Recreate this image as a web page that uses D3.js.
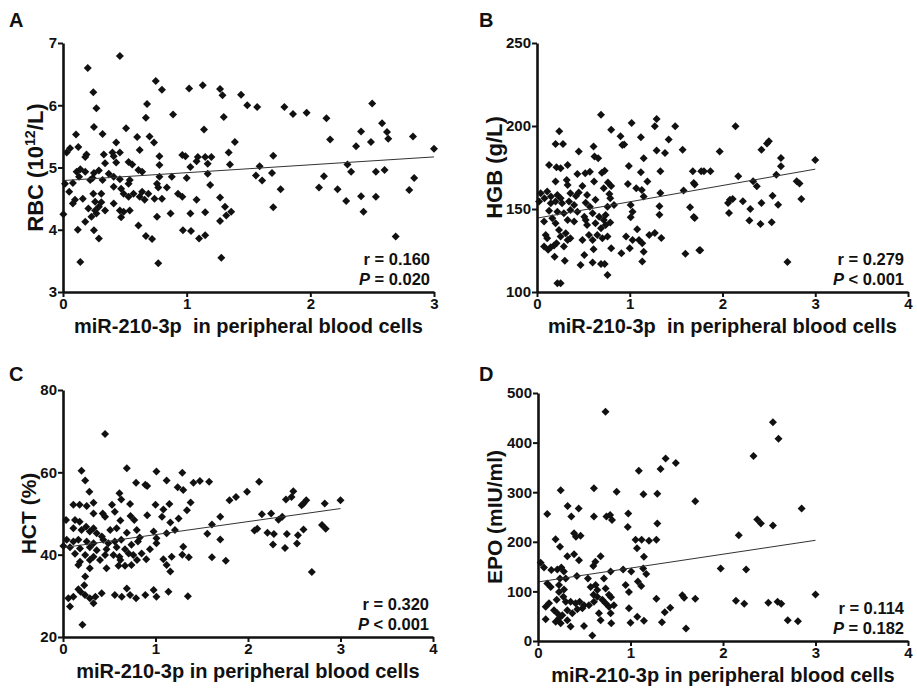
<!DOCTYPE html>
<html>
<head>
<meta charset="utf-8">
<script src="https://cdn.jsdelivr.net/npm/d3@7"></script>
<style>
  body { margin: 0; background: #fff; }
  text { font-family: Arial, "Liberation Sans", sans-serif; font-weight: bold; fill: #111; }
</style>
</head>
<body>
<div id="chart"></div>
<script>
// ---- data: [miR-210-3p, value] ----
const rbcPoints = [
  [0.46,6.79],[0.20,6.60],[0.245,6.21],[0.27,5.95],[0.75,6.39],[0.80,6.25],[1.02,6.27],[1.13,6.32],[1.27,6.26],[1.29,6.16],
  [1.44,6.17],[1.49,6.00],[1.57,5.97],[0.68,6.02],[0.89,5.85],[1.30,5.81],[0.67,5.80],[0.51,5.63],[0.25,5.65],[1.14,5.61],
  [0.965,5.20],[0.99,5.18],[1.03,5.01],[1.00,4.83],[1.08,5.10],[1.09,5.17],[1.15,5.17],[1.20,5.17],[1.17,4.90],[1.17,5.06],
  [1.19,4.72],[0.965,4.53],[1.08,4.48],[1.03,4.26],[1.15,4.28],[1.27,4.52],[1.31,4.37],[1.36,4.29],[1.32,4.23],[0.97,3.99],
  [1.035,3.98],[1.10,3.86],[1.15,3.91],[1.27,4.14],[1.28,3.55],[1.39,5.41],[1.34,5.24],[1.35,5.05],[0.14,3.48],[0.77,3.46],
  [1.79,5.97],[1.86,5.86],[1.97,5.88],[2.13,5.79],[2.50,6.03],[2.58,5.71],[2.62,5.57],[2.63,5.46],[2.83,5.50],[3.00,5.30],
  [2.41,5.58],[2.49,5.41],[2.37,5.34],[2.16,5.45],[1.70,5.19],[1.59,5.02],[1.56,4.87],[1.61,4.79],[1.69,4.91],[1.76,4.65],
  [1.70,4.36],[2.07,4.68],[2.11,4.86],[2.22,4.65],[2.29,4.46],[2.30,5.05],[2.33,4.93],[2.41,4.54],[2.43,4.29],[2.53,4.93],
  [2.60,4.96],[2.53,4.53],[2.69,3.89],[2.80,4.64],[2.84,4.83],
  [0.105,5.53],[0.32,5.54],[0.60,5.49],[0.70,5.50],[0.736,5.40],[0.43,5.40],[0.62,5.28],[0.057,5.31],[0.124,5.33],[0.03,5.24],
  [0.19,5.21],[0.18,5.17],[0.33,5.21],[0.40,5.24],[0.46,5.24],[0.41,5.18],[0.78,5.18],[0.34,5.07],[0.43,5.08],[0.53,5.09],
  [0.56,5.05],[0.78,5.04],[0.14,4.97],[0.11,4.93],[0.18,4.93],[0.25,4.91],[0.29,4.95],[0.37,4.90],[0.61,4.96],[0.64,4.93],
  [0.13,4.85],[0.22,4.80],[0.24,4.83],[0.32,4.80],[0.41,4.85],[0.46,4.81],[0.54,4.80],[0.53,4.74],[0.78,4.85],[0.88,4.85],
  [0.76,4.74],[0.016,4.74],[0.08,4.75],[0.41,4.69],[0.47,4.66],[0.77,4.68],[0.84,4.68],[0.05,4.61],[0.245,4.58],[0.31,4.58],
  [0.49,4.58],[0.57,4.58],[0.64,4.61],[0.69,4.58],[0.53,4.53],[0.62,4.53],[0.66,4.48],[0.74,4.50],[0.80,4.50],[0.93,4.58],
  [0.097,4.48],[0.16,4.50],[0.08,4.42],[0.26,4.45],[0.31,4.44],[0.41,4.42],[0.29,4.37],[0.205,4.34],[0.26,4.31],[0.34,4.31],
  [0.46,4.31],[0.49,4.29],[0.54,4.31],[0.27,4.26],[0.23,4.21],[0.47,4.20],[0.003,4.25],[0.76,4.21],[0.87,4.26],[0.18,4.13],
  [0.12,4.00],[0.25,3.99],[0.29,3.86],[0.61,4.07],[0.67,3.90],[0.72,3.85]
]
const hgbPoints = [
  [0.20,189.2],[0.28,189.2],[0.61,187.6],[0.45,184.6],[0.62,181.6],[0.66,180.6],[0.92,188.6],[1.15,180.6],[0.13,176.5],[0.21,175.1],
  [0.255,174.5],[0.33,176.5],[0.435,171.1],[0.52,171.5],[0.57,172.5],[0.70,171.9],[0.73,173.1],[0.99,175.9],[1.12,172.1],[0.20,166.5],
  [0.32,167.5],[0.33,164.5],[0.49,163.9],[0.615,166.5],[0.765,165.9],[0.80,163.9],[0.72,162.5],[0.98,165.1],[1.07,162.5],[1.13,161.5],
  [1.19,166.5],[0.04,159.5],[0.11,160.5],[0.08,156.5],[0.15,157.5],[0.22,158.5],[0.255,156.5],[0.36,159.5],[0.42,157.9],[0.45,160],
  [0.54,158.5],[0.63,155.5],[0.78,159.1],[0.79,156.5],[1.15,157.5],[0.022,154.5],[0.148,153.4],[0.20,154.5],[0.27,153.4],[0.345,154.5],
  [0.40,152.4],[0.525,153.8],[0.57,151.4],[0.76,151.4],[0.83,152.4],[1.01,152.4],[1.03,148.4],[0.13,149.0],[0.22,148.4],[0.29,147.4],
  [0.36,149.4],[0.435,148.4],[0.51,145.4],[0.60,147.4],[0.67,145.4],[0.72,143.4],[0.74,146.4],[1.01,145.0],[0.076,142.4],[0.165,144.4],
  [0.20,141.4],[0.33,143.4],[0.40,142.4],[0.525,143.4],[0.54,140.4],[0.63,141.4],[0.69,138.4],[0.74,140.4],[0.79,141.8],[0.094,134.4],
  [0.11,132.4],[0.237,137.4],[0.255,133.4],[0.31,135.4],[0.36,132.4],[0.49,131.4],[0.56,134.4],[0.60,131.4],[0.65,134.4],[0.705,132.4],
  [0.76,133.4],[0.96,133.4],[1.03,131.4],[1.10,131.4],[1.135,129.4],[1.08,137.8],[1.21,134.4],[0.076,127.4],[0.12,125.4],[0.148,127],
  [0.184,128],[0.21,129.4],[0.29,127.4],[0.33,131.4],[0.61,125.7],[0.80,126.3],[0.91,123.3],[1.00,126.3],[1.15,124.3],[0.19,121.3],
  [0.30,118.9],[0.51,122.3],[0.47,116.3],[0.60,117.7],[0.69,116.9],[0.73,116.9],[0.76,110.3],[1.135,118.3],[0.22,105.3],[0.255,105.3],
  [0.69,206.8],[0.24,196.8],[0.80,197.8],[0.90,193.8],[0.94,188.8],[1.02,201.8],[1.12,193.2],[1.29,204.2],[1.27,199.8],[1.49,199.8],
  [1.42,191.8],[1.29,185.3],[1.38,183.7],[1.57,185.7],[1.33,172.7],[1.68,172.7],[1.77,172.7],[1.69,165.7],[1.58,161.2],[1.33,159.6],
  [1.32,151.6],[1.32,146.6],[1.65,151.0],[1.69,145.2],[1.34,132.5],[1.27,135.5],[1.60,123.1],[1.75,125.1],
  [2.14,199.8],[1.97,184.7],[2.42,185.7],[2.48,189.4],[2.50,190.8],[2.63,180.7],[2.63,175.7],[3.00,179.5],[1.80,172.7],[1.87,172.7],
  [1.70,164.7],[2.17,169.7],[2.33,166.7],[2.37,163.7],[2.58,170.7],[2.80,166.7],[2.83,165.3],[2.06,153.6],[2.08,155.6],[2.11,156.0],
  [2.22,154.6],[2.30,150.0],[2.42,153.6],[2.54,158.0],[2.60,152.6],[2.85,156.0],[2.07,147.6],[1.70,144.6],[2.29,143.0],[2.41,141.0],
  [2.53,142.0],[1.76,125.1],[2.70,118.1]
]
const hctPoints = [
  [0.20,60.4],[0.69,61.0],[1.01,60.2],[0.24,58.0],[0.79,57.5],[0.91,56.7],[0.89,57.0],[1.12,58.0],[0.285,55.3],[0.61,54.9],
  [0.63,53.4],[0.725,52.3],[1.24,56.4],[0.112,52.1],[0.18,52.1],[0.256,51.8],[0.33,52.6],[0.53,52.1],[1.00,52.1],[1.15,52.3],
  [1.085,51.0],[0.033,48.4],[0.13,48.4],[0.18,48.0],[0.33,50.0],[0.43,50.0],[0.455,49.2],[0.56,50.4],[0.73,49.4],[0.77,48.4],
  [0.62,48.3],[0.91,49.6],[1.07,49.2],[1.16,47.8],[1.25,48.8],[0.112,46.4],[0.20,46.0],[0.25,46.8],[0.29,45.6],[0.33,46.4],
  [0.364,45.2],[0.42,44.4],[0.51,46.0],[0.58,46.4],[0.69,45.3],[0.797,46.0],[0.83,44.2],[0.98,45.6],[1.01,44.0],[1.12,45.2],
  [1.21,46.0],[0.04,43.6],[0.112,43.2],[0.166,43.6],[0.256,43.2],[0.33,42.8],[0.436,43.6],[0.49,42.8],[0.56,43.2],[0.63,43.6],
  [0.74,42.4],[0.81,43.2],[0.004,42.1],[0.076,41.8],[0.184,41.5],[0.29,41.8],[0.364,41.1],[0.47,41.3],[0.58,41.8],[0.67,41.3],
  [0.71,40.3],[1.01,42.8],[0.94,41.3],[0.13,40.2],[0.24,39.9],[0.33,39.5],[0.455,39.9],[0.545,39.9],[0.61,39.5],[0.76,39.9],
  [0.85,40.3],[0.184,38.3],[0.29,38.7],[0.40,38.7],[0.62,38.7],[0.80,38.7],[1.085,38.9],[1.175,39.5],[0.166,37.5],[0.29,36.7],
  [0.47,36.7],[0.60,37.3],[0.67,37.3],[0.74,37.5],[0.90,38.9],[1.12,37.5],[1.16,35.9],[0.24,34.7],[0.23,32.6],[0.166,31.6],
  [0.19,31.0],[0.112,29.8],[0.058,29.4],[0.238,30.2],[0.29,29.4],[0.33,28.2],[0.35,29.8],[0.418,30.6],[0.56,30.2],[0.635,29.8],
  [0.69,31.8],[0.725,30.2],[0.79,29.4],[0.89,30.2],[0.98,31.4],[1.01,29.8],[1.14,31.0],[0.076,27.4],
  [0.455,69.3],[0.21,23.0],[1.29,59.9],[1.41,57.5],[1.48,57.9],[1.58,57.7],[1.30,55.7],[1.38,52.7],[1.34,50.8],[1.56,45.1],
  [1.61,47.3],[1.70,49.2],[1.70,43.7],[1.61,39.4],[1.76,38.5],[1.30,41.9],[1.36,39.4],[1.35,29.9],[1.29,40.0],[1.80,53.2],
  [1.87,54.0],[1.99,55.3],[2.12,57.7],[2.49,55.4],[2.41,53.4],[2.47,54.0],[2.63,53.2],[2.60,52.4],[2.58,52.0],[2.83,52.4],
  [3.00,53.2],[2.15,49.8],[2.25,50.0],[2.33,48.5],[2.37,49.2],[2.07,45.9],[2.10,46.3],[2.21,45.3],[2.28,45.0],[2.42,45.0],
  [2.54,44.7],[2.60,46.1],[2.80,47.2],[2.84,46.3],[2.27,42.5],[2.40,41.6],[2.53,42.7],[2.69,35.8]
]
const epoPoints = [
  [1.09,343],[0.245,304],[0.605,308],[0.85,301],[1.14,296],[0.10,256],[0.32,272],[0.44,267],[0.36,251],[0.605,251],
  [0.74,251],[0.78,254],[0.80,244],[0.976,257],[0.97,230],[0.19,205],[0.238,190],[0.39,217],[0.41,210],[0.46,212],
  [1.055,204],[1.12,204],[1.20,202],[1.07,187],[1.145,170],[0.029,158],[0.065,148],[0.317,171],[0.39,175],[0.443,163],
  [0.62,160],[0.677,171],[0.598,151],[0.144,143],[0.209,144],[0.252,148],[0.28,140],[0.238,126],[0.30,126],[0.42,131],
  [0.54,126],[0.713,126],[0.785,140],[0.92,144],[1.008,140],[1.137,146],[1.17,135],[0.101,116],[0.137,109],[0.227,113],
  [0.281,104],[0.227,99],[0.569,109],[0.623,113],[0.641,103],[0.731,106],[0.767,93],[0.79,88],[0.60,93],[0.947,113],
  [0.983,99],[1.08,120],[1.116,111],[0.083,69],[0.119,76],[0.202,83],[0.274,89],[0.30,79],[0.353,79],[0.407,76],
  [0.45,79],[0.497,72],[0.551,72],[0.605,79],[0.641,89],[0.695,83],[0.731,76],[0.767,69],[0.82,72],[0.173,62],
  [0.209,56],[0.263,52],[0.317,62],[0.371,56],[0.425,64],[0.48,66],[0.659,56],[0.785,56],[0.083,44],[0.191,39],
  [0.227,46],[0.245,36],[0.317,42],[0.353,29],[0.497,30],[0.677,42],[0.792,36],[1.00,37],[1.073,49],[1.145,41],
  [0.587,11],[0.983,66],
  [0.73,462],[1.38,368],[1.325,347],[1.49,359],[1.29,297],[1.29,237],[1.28,204],[1.70,282],[1.56,92],[1.58,87],
  [1.70,85],[1.43,67],[1.37,58],[1.34,38],[1.28,85],[1.60,25],
  [2.54,441],[2.60,408],[2.33,373],[2.85,267],[2.37,245],[2.41,237],[2.54,233],[2.17,213],[1.975,146],[2.25,144],
  [2.14,81],[2.23,75],[2.49,77],[2.59,79],[2.63,75],[3.00,94],[2.70,42],[2.81,40]
]

// linear fits (end points, x from 0 to 3)
const rbcFit = [[0, 4.79], [3, 5.17]]
const hgbFit = [[0, 144.5], [3, 174]]
const hctFit = [[0, 41.7], [3, 51.2]]
const epoFit = [[0, 119], [3, 203]]

// tick labels
const xTicks3 = [0, 1, 2, 3]
const xTicks4 = [0, 1, 2, 3, 4]
const rbcTicks = [3, 4, 5, 6, 7]
const hgbTicks = [100, 150, 200, 250]
const hctTicks = [20, 40, 60, 80]
const epoTicks = [0, 100, 200, 300, 400, 500]

const rValues = ["0.160", "0.279", "0.320", "0.114"]
const pValues = ["= 0.020", "< 0.001", "< 0.001", "= 0.182"]

// panel layout (pixels)
const panels = [
  { letter: "A", points: rbcPoints, fit: rbcFit, xTicks: xTicks3, yTicks: rbcTicks, yLabel: ["RBC (10", "12", "/L)"],
    xLabel: "miR-210-3p\u00a0 in peripheral blood cells", box: { l: 63, r: 434, t: 43, b: 292 }, labelX: 43, labelSize: 22, letterPos: [9, 27] },
  { letter: "B", points: hgbPoints, fit: hgbFit, xTicks: xTicks4, yTicks: hgbTicks, yLabel: ["HGB (g/L)"],
    xLabel: "miR-210-3p\u00a0 in peripheral blood cells", box: { l: 537, r: 908, t: 43, b: 292 }, labelX: 502, labelSize: 22, letterPos: [479, 27] },
  { letter: "C", points: hctPoints, fit: hctFit, xTicks: xTicks4, yTicks: hctTicks, yLabel: ["HCT (%)"],
    xLabel: "miR-210-3p in peripheral blood cells", box: { l: 63, r: 433, t: 390, b: 637 }, labelX: 36, labelSize: 21, letterPos: [9, 381] },
  { letter: "D", points: epoPoints, fit: epoFit, xTicks: xTicks4, yTicks: epoTicks, yLabel: ["EPO (mIU/ml)"],
    xLabel: "miR-210-3p in peripheral blood cells", box: { l: 538, r: 908, t: 393, b: 641 }, labelX: 502, labelSize: 21, letterPos: [479, 381] }
]

const svg = d3.select("#chart").append("svg")
  .attr("width", 917)
  .attr("height", 689)

const diamond = d3.symbol().type(d3.symbolSquare).size(32)
const fmt = d3.format("d")

panels.forEach(function(p, i) {
  let xMax = d3.max(p.xTicks)
  let x = d3.scaleLinear().domain([0, xMax]).range([p.box.l, p.box.r])
  let y = d3.scaleLinear().domain(d3.extent(p.yTicks)).range([p.box.b, p.box.t])
  let g = svg.append("g")

  // points
  g.selectAll(".pt").data(p.points).enter().append("path")
    .attr("class", "pt")
    .attr("d", diamond)
    .attr("transform", d => "translate(" + x(d[0]) + "," + y(d[1]) + ") rotate(45)")
    .attr("fill", "#111")

  // regression line
  g.append("path")
    .datum(p.fit)
    .attr("d", d3.line().x(d => x(d[0])).y(d => y(d[1])))
    .attr("fill", "none")
    .attr("stroke", "#333")
    .attr("stroke-width", 1)

  // axes
  let xAxis = g.append("g")
    .attr("transform", "translate(0," + p.box.b + ")")
    .call(d3.axisBottom(x).tickValues(p.xTicks).tickFormat(fmt).tickSize(5).tickSizeOuter(0).tickPadding(1))
  let yAxis = g.append("g")
    .attr("transform", "translate(" + p.box.l + ",0)")
    .call(d3.axisLeft(y).tickValues(p.yTicks).tickFormat(fmt).tickSize(5).tickSizeOuter(0).tickPadding(1))
  ;[xAxis, yAxis].forEach(function(a) {
    a.select(".domain").attr("stroke", "#111").attr("stroke-width", 2.6)
    a.selectAll(".tick line").attr("stroke", "#111").attr("stroke-width", 2)
    a.selectAll(".tick text").attr("font-size", 15).attr("font-family", null).attr("fill", "#111")
  })

  // axis titles
  g.append("text")
    .attr("x", (p.box.l + p.box.r) / 2)
    .attr("y", p.box.b + 41)
    .attr("text-anchor", "middle")
    .attr("font-size", 20)
    .text(p.xLabel)

  let yl = g.append("text")
    .attr("transform", "translate(" + p.labelX + "," + (p.box.t + p.box.b) / 2 + ") rotate(-90)")
    .attr("text-anchor", "middle")
    .attr("font-size", p.labelSize)
  yl.append("tspan").text(p.yLabel[0])
  if (p.yLabel.length > 1) {
    yl.append("tspan").attr("font-size", p.labelSize * 0.65).attr("dy", -8).text(p.yLabel[1])
    yl.append("tspan").attr("dy", 8).text(p.yLabel[2])
  }

  // statistics
  g.append("text")
    .attr("x", p.box.r - 4)
    .attr("y", p.box.b - 27)
    .attr("text-anchor", "end")
    .attr("font-size", 16.5)
    .text("r = " + rValues[i])
  let pt = g.append("text")
    .attr("x", p.box.r - 4)
    .attr("y", p.box.b - 7)
    .attr("text-anchor", "end")
    .attr("font-size", 16.5)
  pt.append("tspan").attr("font-style", "italic").text("P")
  pt.append("tspan").text(" " + pValues[i])

  // panel letter
  g.append("text")
    .attr("x", p.letterPos[0])
    .attr("y", p.letterPos[1])
    .attr("font-size", 20)
    .text(p.letter)
})
</script>
</body>
</html>
